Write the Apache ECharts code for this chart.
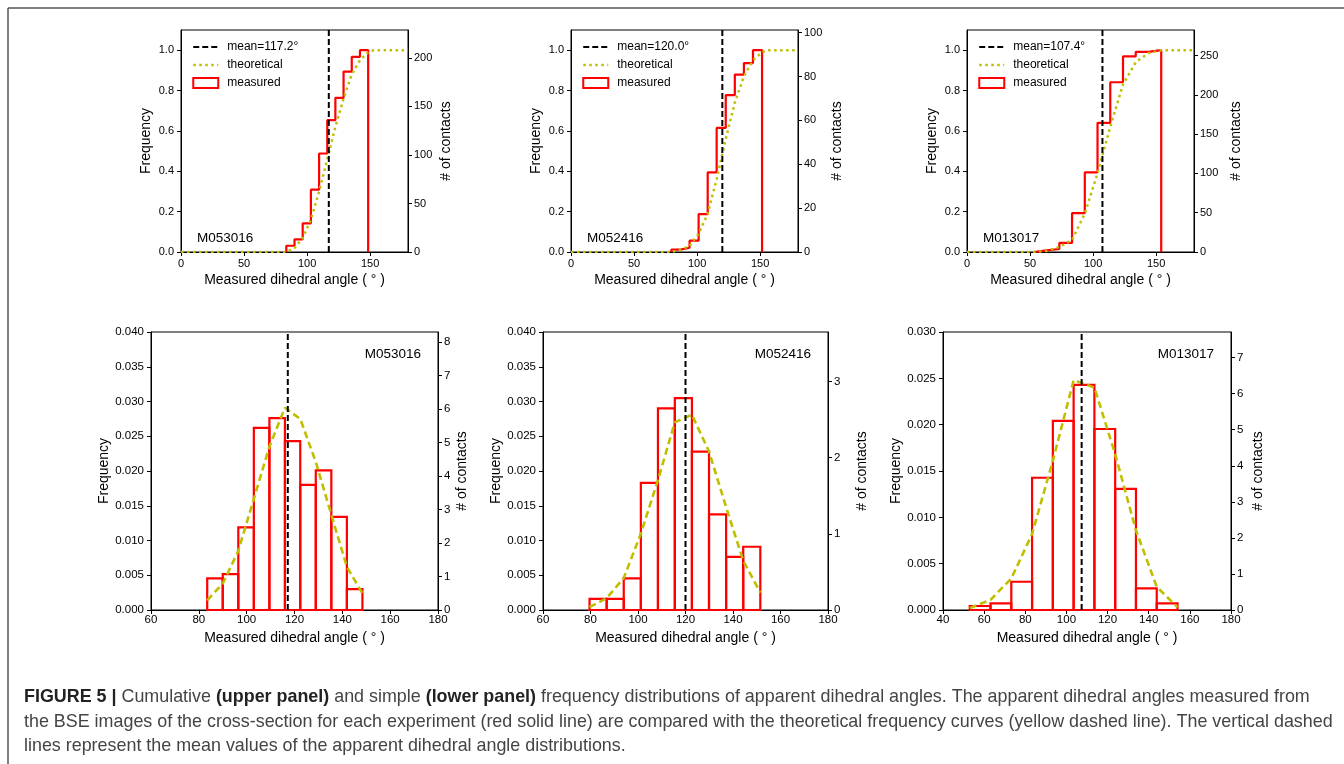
<!DOCTYPE html>
<html>
<head>
<meta charset="utf-8">
<script src="https://cdn.jsdelivr.net/npm/echarts@6/dist/echarts.min.js"></script>
<style>
  html, body { margin: 0; padding: 0; background: #fff; }
  #chart { width: 1344px; height: 764px; }
</style>
</head>
<body>
<div id="chart"></div>
<script>
// sample ids and mean dihedral angles
var samples = ['M053016', 'M052416', 'M013017'];
var means = [117.2, 120.0, 107.4];

// bin edges (deg)
var edges1 = [83.5, 90.0, 96.5, 103.0, 109.5, 116.0, 122.4, 128.9, 135.4, 141.9, 148.4];
var edges2 = [79.6, 86.8, 94.0, 101.2, 108.4, 115.5, 122.7, 129.9, 137.1, 144.3, 151.5];
var edges3 = [53.0, 63.1, 73.2, 83.3, 93.4, 103.5, 113.6, 123.7, 133.8, 143.9, 154.0];

// measured cumulative frequency per bin (upper panels)
var cum1 = [0.031, 0.063, 0.142, 0.309, 0.488, 0.653, 0.764, 0.894, 0.967, 1.0];
var cum2 = [0.012, 0.021, 0.056, 0.188, 0.395, 0.615, 0.777, 0.879, 0.936, 1.0];
var cum3 = [0.008, 0.015, 0.045, 0.193, 0.395, 0.640, 0.841, 0.969, 0.992, 1.0];

// theoretical cumulative curve (upper panels, dotted)
var cdfX1 = [0, 83.5, 90.0, 96.5, 103.0, 109.5, 116.0, 122.4, 128.9, 135.4, 141.9, 148.4, 153, 180];
var cdfY1 = [0, 0, 0.02, 0.07, 0.16, 0.30, 0.46, 0.62, 0.76, 0.88, 0.95, 0.99, 1.0, 1.0];
var cdfX2 = [0, 79.6, 86.8, 94.0, 101.2, 108.4, 115.5, 122.7, 129.9, 137.1, 144.3, 151.5, 156, 180];
var cdfY2 = [0, 0, 0.01, 0.03, 0.09, 0.19, 0.36, 0.56, 0.74, 0.87, 0.95, 0.99, 1.0, 1.0];
var cdfX3 = [0, 53.0, 63.1, 73.2, 83.3, 93.4, 103.5, 113.6, 123.7, 133.8, 143.9, 154.0, 180];
var cdfY3 = [0, 0, 0.005, 0.025, 0.06, 0.19, 0.39, 0.62, 0.83, 0.94, 0.985, 1.0, 1.0];

// measured frequency density per bin (lower panels)
var dens1 = [0.00455, 0.00517, 0.0119, 0.0262, 0.0276, 0.0243, 0.0180, 0.0201, 0.0134, 0.0030];
var dens2 = [0.0016, 0.0016, 0.00455, 0.0183, 0.0290, 0.0305, 0.0228, 0.01375, 0.00765, 0.0091];
var dens3 = [0.00043, 0.00072, 0.00305, 0.01427, 0.0204, 0.0243, 0.01953, 0.01308, 0.00233, 0.00072];

// theoretical density at the bin edges (lower panels, dashed)
var pdf1 = [0.0014, 0.0038, 0.0085, 0.0160, 0.0235, 0.0291, 0.0275, 0.0213, 0.0137, 0.0062, 0.0024];
var pdf2 = [0.0004, 0.0017, 0.0046, 0.0110, 0.0187, 0.0270, 0.0281, 0.0228, 0.0148, 0.0071, 0.0025];
var pdf3 = [0.0002, 0.0011, 0.0034, 0.0082, 0.0161, 0.0248, 0.0240, 0.0168, 0.0086, 0.0025, 0.0003];

// axis ranges and tick labels
var cumMax = 1.1;
var cumTicks = [0, 0.2, 0.4, 0.6, 0.8, 1.0];
var cumAngleTicks = [0, 50, 100, 150];
var contactMaxTop = [228.8, 101.2, 282.6];
var contactTicksTop = [[0, 50, 100, 150, 200], [0, 20, 40, 60, 80, 100], [0, 50, 100, 150, 200, 250]];
var densMax = [0.040, 0.040, 0.030];
var densTicks = [
  [0, 0.005, 0.010, 0.015, 0.020, 0.025, 0.030, 0.035, 0.040],
  [0, 0.005, 0.010, 0.015, 0.020, 0.025, 0.030, 0.035, 0.040],
  [0, 0.005, 0.010, 0.015, 0.020, 0.025, 0.030]
];
var angleMinBottom = [60, 60, 40];
var angleTicksBottom = [
  [60, 80, 100, 120, 140, 160, 180],
  [60, 80, 100, 120, 140, 160, 180],
  [40, 60, 80, 100, 120, 140, 160, 180]
];
var contactMaxBottom = [8.3, 3.65, 7.71];
var contactTicksBottom = [[0, 1, 2, 3, 4, 5, 6, 7, 8], [0, 1, 2, 3], [0, 1, 2, 3, 4, 5, 6, 7]];

var captionLine1 = [
  ['FIGURE 5 |', true], [' Cumulative ', false], ['(upper panel)', true], [' and simple ', false],
  ['(lower panel)', true], [' frequency distributions of apparent dihedral angles. The apparent dihedral angles measured from', false]
];
var captionLine2 = 'the BSE images of the cross-section for each experiment (red solid line) are compared with the theoretical frequency curves (yellow dashed line). The vertical dashed';
var captionLine3 = 'lines represent the mean values of the apparent dihedral angle distributions.';

var edges = [edges1, edges2, edges3];
var cums = [cum1, cum2, cum3];
var cdfXs = [cdfX1, cdfX2, cdfX3];
var cdfYs = [cdfY1, cdfY2, cdfY3];
var denss = [dens1, dens2, dens3];
var pdfs = [pdf1, pdf2, pdf3];

var FONT = '"Liberation Sans", Arial, Helvetica, sans-serif';
var RED = '#ff0000';
var YEL = '#bfbf00';
var DOTS = [2.5, 3.5];

// layout
var topGrids = [
  { left: 181, top: 30, width: 227, height: 222 },
  { left: 571, top: 30, width: 227, height: 222 },
  { left: 967, top: 30, width: 227, height: 222 }
];
var botGrids = [
  { left: 151, top: 332, width: 287, height: 278 },
  { left: 543, top: 332, width: 285, height: 278 },
  { left: 943, top: 332, width: 288, height: 278 }
];
var leftNameGapTop = 28, leftNameGapBot = 40;
var rightNameGapTop = [31, 32, 35];
var rightNameGapBot = [17, 27, 20];

function zip(xs, ys) {
  return xs.map(function (x, i) { return [x, ys[i]]; });
}

function stepOutline(e, c) {
  var pts = [[e[0], 0]];
  for (var i = 0; i < c.length; i++) {
    pts.push([e[i], c[i]], [e[i + 1], c[i]]);
  }
  pts.push([e[e.length - 1], 0]);
  return pts;
}

function barData(e, d) {
  return d.map(function (v, i) { return [e[i], e[i + 1], v]; });
}

function renderBar(params, api) {
  var p0 = api.coord([api.value(0), 0]);
  var p1 = api.coord([api.value(1), api.value(2)]);
  return {
    type: 'rect',
    shape: { x: p0[0], y: p1[1], width: p1[0] - p0[0], height: p0[1] - p1[1] },
    style: { fill: 'none', stroke: RED, lineWidth: 2.2 }
  };
}

function valueAxis(opt) {
  return {
    type: 'value',
    gridIndex: opt.grid,
    position: opt.position,
    min: opt.min,
    max: opt.max,
    name: opt.name,
    nameLocation: 'middle',
    nameGap: opt.nameGap,
    nameTextStyle: { fontFamily: FONT, fontSize: 14, color: '#000' },
    axisLine: { show: true, onZero: false, lineStyle: { color: '#000', width: 1 } },
    axisTick: { show: true, length: 4, customValues: opt.ticks, lineStyle: { color: '#000', width: 1 } },
    axisLabel: {
      show: true, customValues: opt.ticks, margin: opt.margin, color: '#000',
      fontFamily: FONT, fontSize: opt.fontSize,
      formatter: opt.formatter || function (v) { return String(v); }
    },
    splitLine: { show: false },
    splitArea: { show: false }
  };
}

var grids = [], xAxes = [], yAxes = [], series = [], legends = [], graphics = [];

topGrids.concat(botGrids).forEach(function (g) {
  grids.push({ left: g.left, top: g.top, width: g.width, height: g.height, show: true, borderColor: '#000', borderWidth: 1, containLabel: false, outerBoundsMode: 'none' });
});

var k;
// x axes: 0..2 top, 3..5 bottom
for (k = 0; k < 3; k++) {
  xAxes.push(valueAxis({ grid: k, position: 'bottom', min: 0, max: 180, ticks: cumAngleTicks, margin: 6, fontSize: 11,
    name: 'Measured dihedral angle ( \u00b0 )', nameGap: 21 }));
}
for (k = 0; k < 3; k++) {
  xAxes.push(valueAxis({ grid: 3 + k, position: 'bottom', min: angleMinBottom[k], max: 180, ticks: angleTicksBottom[k], margin: 4, fontSize: 11.5,
    name: 'Measured dihedral angle ( \u00b0 )', nameGap: 21 }));
}

// y axes: 0..2 top-left, 3..5 top-right, 6..8 bottom-left, 9..11 bottom-right
for (k = 0; k < 3; k++) {
  yAxes.push(valueAxis({ grid: k, position: 'left', min: 0, max: cumMax, ticks: cumTicks, margin: 7, fontSize: 11,
    name: 'Frequency', nameGap: leftNameGapTop, formatter: function (v) { return v.toFixed(1); } }));
}
for (k = 0; k < 3; k++) {
  yAxes.push(valueAxis({ grid: k, position: 'right', min: 0, max: contactMaxTop[k], ticks: contactTicksTop[k], margin: 6, fontSize: 11,
    name: '# of contacts', nameGap: rightNameGapTop[k] }));
}
for (k = 0; k < 3; k++) {
  yAxes.push(valueAxis({ grid: 3 + k, position: 'left', min: 0, max: densMax[k], ticks: densTicks[k], margin: 7, fontSize: 11.5,
    name: 'Frequency', nameGap: leftNameGapBot, formatter: function (v) { return v.toFixed(3); } }));
}
for (k = 0; k < 3; k++) {
  yAxes.push(valueAxis({ grid: 3 + k, position: 'right', min: 0, max: contactMaxBottom[k], ticks: contactTicksBottom[k], margin: 6, fontSize: 11.5,
    name: '# of contacts', nameGap: rightNameGapBot[k] }));
}

for (k = 0; k < 3; k++) {
  var meanName = 'mean=' + means[k].toFixed(1) + '\u00b0';
  // upper: cumulative
  series.push({
    type: 'line', name: 'measured', xAxisIndex: k, yAxisIndex: k,
    data: stepOutline(edges[k], cums[k]), symbol: 'none', z: 2,
    lineStyle: { color: RED, width: 2.2 }, itemStyle: { color: RED }
  });
  series.push({
    type: 'line', name: 'theoretical', xAxisIndex: k, yAxisIndex: k,
    data: zip(cdfXs[k], cdfYs[k]), symbol: 'none', z: 3,
    lineStyle: { color: YEL, width: 2.5, type: DOTS }, itemStyle: { color: YEL }
  });
  series.push({
    type: 'line', name: meanName, xAxisIndex: k, yAxisIndex: k,
    data: [[means[k], 0], [means[k], cumMax]], symbol: 'none', z: 4,
    lineStyle: { color: '#000', width: 2, type: [6, 3] }, itemStyle: { color: '#000' }
  });
  // lower: simple
  series.push({
    type: 'custom', name: 'bins ' + samples[k], xAxisIndex: 3 + k, yAxisIndex: 6 + k,
    data: barData(edges[k], denss[k]), encode: { x: [0, 1], y: 2 }, renderItem: renderBar, z: 2
  });
  series.push({
    type: 'line', name: 'pdf ' + samples[k], xAxisIndex: 3 + k, yAxisIndex: 6 + k,
    data: zip(edges[k], pdfs[k]), symbol: 'none', z: 3,
    lineStyle: { color: YEL, width: 2.6, type: [7, 4] }
  });
  series.push({
    type: 'line', name: 'mean ' + samples[k], xAxisIndex: 3 + k, yAxisIndex: 6 + k,
    data: [[means[k], 0], [means[k], densMax[k]]], symbol: 'none', z: 4,
    lineStyle: { color: '#000', width: 2, type: [6, 3] }
  });

  legends.push({
    orient: 'vertical', left: topGrids[k].left + 11, top: 41, padding: 0,
    itemWidth: 25, itemHeight: 10, itemGap: 6, selectedMode: false,
    textStyle: { fontFamily: FONT, fontSize: 12, color: '#000', padding: [0, 0, 0, 4] },
    data: [
      { name: meanName, itemStyle: { opacity: 0 }, lineStyle: { color: '#000', width: 2, type: [6, 3] } },
      { name: 'theoretical', itemStyle: { opacity: 0 }, lineStyle: { color: YEL, width: 2.5, type: DOTS } },
      { name: 'measured', icon: 'rect', itemStyle: { color: '#fff', borderColor: RED, borderWidth: 2 } }
    ]
  });

  graphics.push({
    type: 'text', left: topGrids[k].left + 16, top: 231, silent: true,
    style: { text: samples[k], font: '13.5px ' + FONT, fill: '#000' }
  });
  graphics.push({
    type: 'text', right: 1344 - (botGrids[k].left + botGrids[k].width) + 17, top: 347, silent: true,
    style: { text: samples[k], font: '13.5px ' + FONT, fill: '#000' }
  });
}

// caption, sized so the two long lines fit the text column
function measureWidth(parts, size) {
  var ctx = document.createElement('canvas').getContext('2d');
  var w = 0;
  parts.forEach(function (p) {
    ctx.font = (p[1] ? 'bold ' : '') + size + 'px ' + FONT;
    w += ctx.measureText(p[0]).width;
  });
  return w;
}
var capSize = Math.min(
  100 * 1305 / measureWidth(captionLine1, 100),
  100 * 1310 / measureWidth([[captionLine2, false]], 100)
);
var capRich = { b: { fontWeight: 'bold', fill: '#222', fontSize: capSize, fontFamily: FONT } };
var line1Text = captionLine1.map(function (p) { return p[1] ? '{b|' + p[0] + '}' : p[0]; }).join('');
[line1Text, captionLine2, captionLine3].forEach(function (t, i) {
  graphics.push({
    type: 'text', x: 24, y: [697, 722, 746][i], silent: true,
    style: { text: t, fontSize: capSize, fontFamily: FONT, fill: '#444', verticalAlign: 'middle', rich: capRich }
  });
});

// frame
graphics.push({ type: 'line', silent: true, shape: { x1: 8, y1: 8, x2: 1344, y2: 8 }, style: { stroke: '#555', lineWidth: 1.5 } });
graphics.push({ type: 'line', silent: true, shape: { x1: 8, y1: 8, x2: 8, y2: 764 }, style: { stroke: '#555', lineWidth: 1.5 } });

var chart = echarts.init(document.getElementById('chart'));
chart.setOption({
  backgroundColor: '#fff',
  animation: false,
  textStyle: { fontFamily: FONT },
  grid: grids,
  xAxis: xAxes,
  yAxis: yAxes,
  legend: legends,
  series: series,
  graphic: graphics
});
</script>
</body>
</html>
